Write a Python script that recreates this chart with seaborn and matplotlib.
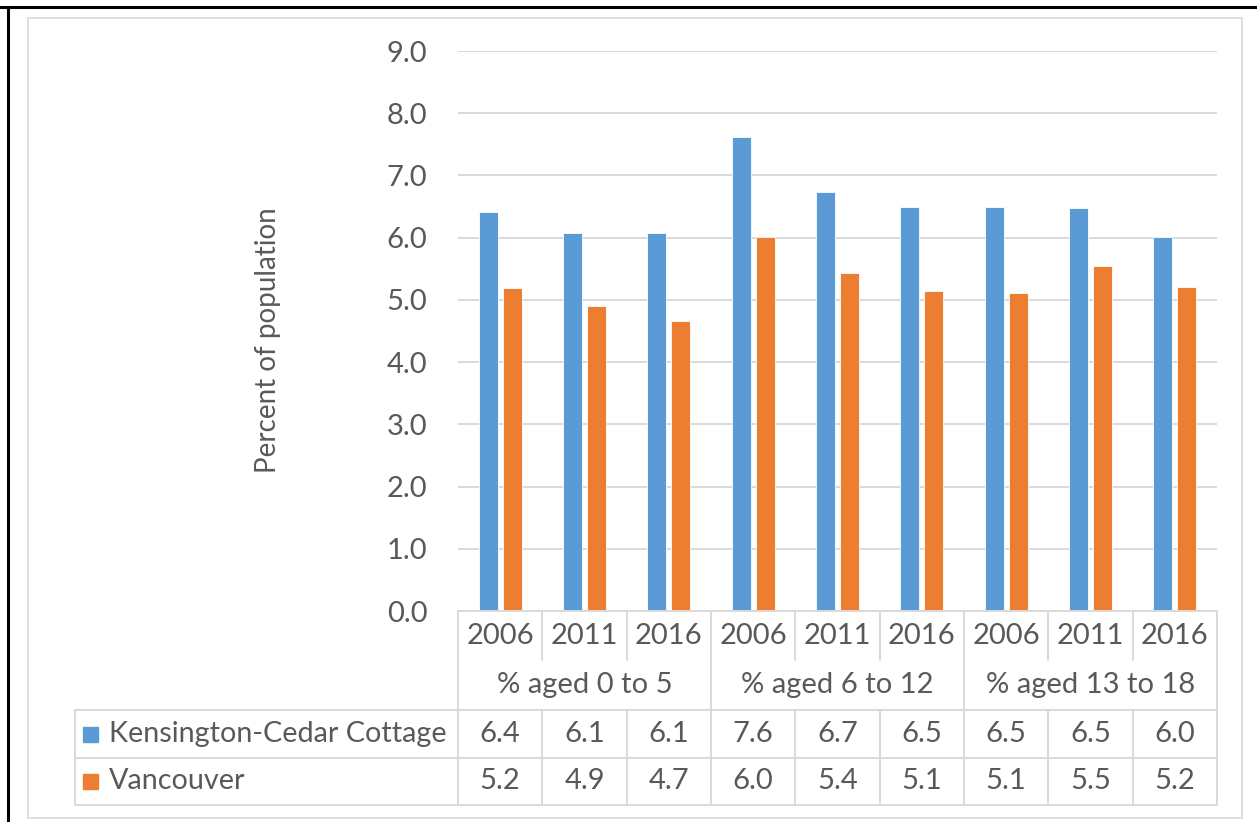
import numpy as np
import pandas as pd
import matplotlib
matplotlib.use('Agg')
import matplotlib.pyplot as plt
from matplotlib.lines import Line2D
from matplotlib.patches import Rectangle
from matplotlib.transforms import blended_transform_factory
import seaborn as sns

# du lieu doc tu hinh
groups = ['% aged 0 to 5', '% aged 6 to 12', '% aged 13 to 18']
years = ['2006', '2011', '2016']
series_names = ['Kensington-Cedar Cottage', 'Vancouver']
kcc = [6.41, 6.08, 6.08, 7.62, 6.74, 6.50, 6.49, 6.48, 6.01]
van = [5.19, 4.90, 4.66, 6.01, 5.43, 5.14, 5.11, 5.54, 5.21]
y_ticks = [0, 1, 2, 3, 4, 5, 6, 7, 8, 9]

BLUE = '#5B9BD5'
ORANGE = '#ED7D31'
TXT = '#595959'
GRID = '#D9D9D9'
W, H = 1257, 822

sns.set_theme(style='white')
plt.rcParams['font.family'] = ['Lato', 'DejaVu Sans']

slots = [g + '|' + y for g in groups for y in years]
df = pd.DataFrame({
    'slot': slots * 2,
    'value': kcc + van,
    'series': [series_names[0]] * 9 + [series_names[1]] * 9,
})

fig = plt.figure(figsize=(W / 100, H / 100), dpi=100)
ax = fig.add_axes([458 / W, 1 - 611 / H, (1217 - 458) / W, (611 - 51) / H])

sns.barplot(data=df, x='slot', y='value', hue='series', order=slots,
            hue_order=series_names, palette=[BLUE, ORANGE], width=0.57, gap=0.2,
            saturation=1, edgecolor='white', linewidth=0.6, legend=False, ax=ax)

ax.set_xlim(-0.5, 8.5)
ax.set_ylim(0, 9)
ax.set_yticks(y_ticks)
ax.set_yticklabels(['%.1f' % t for t in y_ticks], color=TXT, fontsize=21)
ax.tick_params(axis='y', length=0, pad=22)
ax.set_xticks([])
ax.set_xlabel('')
ax.set_ylabel('')
ax.yaxis.grid(True, color=GRID, lw=1.4)
ax.set_axisbelow(True)
for s in ax.spines.values():
    s.set_visible(False)

fig.text(268 / W, 1 - 340 / H, 'Percent of population', rotation=90,
         ha='center', va='center', color=TXT, fontsize=20)

# bang du lieu phia duoi
tr = blended_transform_factory(ax.transData, ax.transAxes)
ah = 611 - 51
def ay(py):
    return (611 - py) / ah

def line(x0, x1, y0, y1):
    ax.add_line(Line2D([x0, x1], [y0, y1], transform=tr, color=GRID, lw=1.4, clip_on=False))

x_left = (75 - 458) / ((1217 - 458) / 9) - 0.5
line(-0.5, 8.5, ay(611), ay(611))
for py in [710, 758, 805]:
    line(x_left, 8.5, ay(py), ay(py))
line(x_left, x_left, ay(710), ay(805))
for i in range(10):
    xb = i - 0.5
    if i % 3 == 0:
        line(xb, xb, ay(611), ay(805))
    else:
        line(xb, xb, ay(611), ay(660))
        line(xb, xb, ay(710), ay(805))

for i, s in enumerate(slots):
    ax.text(i, ay(636), s.split('|')[1], transform=tr, ha='center', va='center',
            color=TXT, fontsize=21)
    ax.text(i, ay(734), '%.1f' % kcc[i], transform=tr, ha='center', va='center',
            color=TXT, fontsize=21)
    ax.text(i, ay(781), '%.1f' % van[i], transform=tr, ha='center', va='center',
            color=TXT, fontsize=21)
for j, g in enumerate(groups):
    ax.text(3 * j + 1, ay(685), g, transform=tr, ha='center', va='center',
            color=TXT, fontsize=21)

# chu giai trong bang
for name, col, py in [(series_names[0], BLUE, 734), (series_names[1], ORANGE, 781)]:
    fig.add_artist(Rectangle((83 / W, 1 - (py + 7.5) / H), 15 / W, 15 / H,
                             transform=fig.transFigure, color=col))
    fig.text(109 / W, 1 - py / H, name, ha='left', va='center', color=TXT, fontsize=20.7)

# khung ngoai
fig.add_artist(Rectangle((28 / W, 1 - 818 / H), (1242 - 28) / W, (818 - 18) / H,
                         transform=fig.transFigure, fill=False, ec=GRID, lw=1.2))
fig.add_artist(Line2D([0, 1], [1 - 7.5 / H, 1 - 7.5 / H], transform=fig.transFigure, color='black', lw=2.2))
fig.add_artist(Line2D([7.5 / W, 7.5 / W], [0, 1 - 7.5 / H], transform=fig.transFigure, color='black', lw=2.2))

plt.savefig('out.png', dpi=100, facecolor='white')
plt.close()
